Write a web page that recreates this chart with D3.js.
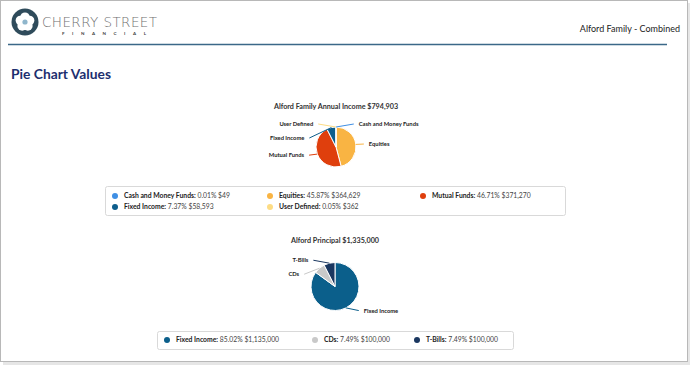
<!DOCTYPE html>
<html>
<head>
<meta charset="utf-8">
<script src="https://cdn.jsdelivr.net/npm/d3@7"></script>
<style>
  body { margin: 0; background: #fff; }
  svg { display: block; font-family: Lato, "Open Sans", sans-serif; }
</style>
</head>
<body>
<svg id="page"></svg>
<script>
var width = 697;
var height = 372;

// annual income pie
var incomeNames = ["Cash and Money Funds", "Equities", "Mutual Funds", "Fixed Income", "User Defined"];
var incomeValues = [49, 364629, 371270, 58593, 362];
var incomePct = ["0.01%", "45.87%", "46.71%", "7.37%", "0.05%"];
var incomeColors = ["#3f8fe4", "#f9b443", "#df3f0d", "#0d5e8c", "#fddc84"];

// principal pie
var principalNames = ["Fixed Income", "CDs", "T-Bills"];
var principalValues = [1135000, 100000, 100000];
var principalPct = ["85.02%", "7.49%", "7.49%"];
var principalColors = ["#0b5f8b", "#c9c9c9", "#1a3760"];

var svg = d3.select("#page")
    .attr("width", width)
    .attr("height", height);

// page frame with soft shadow
svg.append("rect").attr("x", 3).attr("y", 3).attr("width", 687).attr("height", 362).attr("fill", "#e6e6e6");
svg.append("rect").attr("x", 0.5).attr("y", 0.5).attr("width", 687).attr("height", 361)
    .attr("fill", "#fff").attr("stroke", "#b8b8b8");

// header / logo
var logo = svg.append("g").attr("transform", "translate(25,22)");
logo.append("circle").attr("r", 13.5).attr("fill", "#2f4b5b");
d3.range(5).forEach(function(i) {
    var a = i * 2 * Math.PI / 5 - Math.PI / 2;
    logo.append("circle")
        .attr("cx", Math.cos(a) * 4.8).attr("cy", Math.sin(a) * 4.8)
        .attr("r", 4.8).attr("fill", "#fff");
});
logo.append("circle").attr("r", 2.6).attr("fill", "#8fb6cc");

svg.append("text").attr("x", 42).attr("y", 27)
    .attr("font-family", "'DejaVu Sans', sans-serif").attr("font-size", 13.5)
    .attr("font-weight", 200).attr("fill", "#707070").attr("textLength", 115)
    .text("CHERRY STREET");
svg.append("text").attr("x", 62).attr("y", 35)
    .attr("font-size", 4.5).attr("font-weight", "bold").attr("fill", "#444")
    .attr("textLength", 84).text("FINANCIAL");

svg.append("text").attr("x", 680).attr("y", 32)
    .attr("text-anchor", "end").attr("font-size", 9).attr("fill", "#222")
    .text("Alford Family - Combined");

svg.append("line").attr("x1", 8).attr("x2", 667).attr("y1", 44.5).attr("y2", 44.5)
    .attr("stroke", "#3b6888").attr("stroke-width", 1.5);

svg.append("text").attr("x", 11).attr("y", 79)
    .attr("font-size", 14).attr("font-weight", "bold").attr("fill", "#1d2f6f")
    .attr("textLength", 100).attr("lengthAdjust", "spacingAndGlyphs")
    .text("Pie Chart Values");

function drawPie(opts) {
    var pie = d3.pie().sort(null).value(function(d) { return d; });
    var arcs = pie(opts.values);
    var r = opts.r;
    var arc = d3.arc().innerRadius(0).outerRadius(r);

    svg.append("text").attr("x", opts.cx).attr("y", opts.titleY)
        .attr("text-anchor", "middle").attr("font-size", 7.2).attr("font-weight", "bold")
        .attr("fill", "#333").text(opts.title);

    var g = svg.append("g").attr("transform", "translate(" + opts.cx + "," + opts.cy + ")");

    g.selectAll("path.slice")
        .data(arcs)
      .enter().append("path")
        .attr("class", "slice")
        .attr("d", arc)
        .attr("fill", function(d, i) { return opts.colors[i]; })
        .attr("stroke", "#fff").attr("stroke-width", 1);

    // label layout, pushed apart on each side
    var labels = arcs.map(function(d, i) {
        var a = (d.startAngle + d.endAngle) / 2;
        return { i: i, a: a, right: Math.sin(a) >= 0, y: -Math.cos(a) * (r + 3) };
    });
    [true, false].forEach(function(side) {
        var s = labels.filter(function(l) { return l.right === side; })
            .sort(function(p, q) { return p.y - q.y; });
        for (var k = 1; k < s.length; k++) {
            if (s[k].y - s[k - 1].y < opts.gap) s[k].y = s[k - 1].y + opts.gap;
        }
    });
    var R = r + opts.labelDist;
    labels.forEach(function(l) {
        var dy = Math.max(-R + 4, Math.min(R - 2, l.y));
        var dx = Math.sqrt(R * R - dy * dy) * (l.right ? 1 : -1);
        l.x = dx;
        l.ex = Math.sin(l.a) * r;
        l.ey = -Math.cos(l.a) * r;
    });

    g.selectAll("path.conn")
        .data(labels)
      .enter().append("path")
        .attr("class", "conn")
        .attr("d", function(l) {
            return "M" + l.ex + "," + l.ey + "L" + (l.x + (l.right ? -3 : 3)) + "," + l.y;
        })
        .attr("fill", "none")
        .attr("stroke", function(l) { return opts.colors[l.i]; })
        .attr("stroke-width", 1);

    g.selectAll("text.lbl")
        .data(labels)
      .enter().append("text")
        .attr("class", "lbl")
        .attr("x", function(l) { return l.x + (l.right ? 2 : -2); })
        .attr("y", function(l) { return l.y; })
        .attr("dy", "0.35em")
        .attr("text-anchor", function(l) { return l.right ? "start" : "end"; })
        .attr("font-size", 5.8).attr("font-weight", "bold").attr("fill", "#222")
        .text(function(l) { return opts.names[l.i]; });

    // legend
    svg.append("rect")
        .attr("x", opts.legend.x + 0.5).attr("y", opts.legend.y + 0.5)
        .attr("width", opts.legend.w).attr("height", opts.legend.h)
        .attr("rx", 2).attr("fill", "#fff").attr("stroke", "#d9d9d9");
    opts.names.forEach(function(name, i) {
        var col = i % opts.legend.cols.length;
        var row = Math.floor(i / opts.legend.cols.length);
        var lx = opts.legend.cols[col];
        var ly = opts.legend.rowY + row * 11;
        svg.append("circle").attr("cx", lx).attr("cy", ly).attr("r", 3)
            .attr("fill", opts.colors[i]);
        var t = svg.append("text").attr("x", lx + 9).attr("y", ly).attr("dy", "0.35em")
            .attr("font-size", 6.8).attr("fill", "#444");
        t.append("tspan").attr("font-weight", "bold").attr("fill", "#222").text(name + ":");
        t.append("tspan").text(" " + opts.pct[i] + " $" + d3.format(",")(opts.values[i]));
    });
}

drawPie({
    title: "Alford Family Annual Income $794,903",
    titleY: 109,
    cx: 336, cy: 147, r: 20,
    names: incomeNames, values: incomeValues, pct: incomePct, colors: incomeColors,
    gap: 14, labelDist: 11,
    legend: { x: 105, y: 186, w: 460, h: 29, rowY: 196, cols: [115, 270, 423] }
});

drawPie({
    title: "Alford Principal $1,335,000",
    titleY: 243,
    cx: 335, cy: 286.5, r: 24,
    names: principalNames, values: principalValues, pct: principalPct, colors: principalColors,
    gap: 14, labelDist: 12,
    legend: { x: 157, y: 331, w: 356, h: 18, rowY: 340, cols: [167, 315, 417] }
});
</script>
</body>
</html>
